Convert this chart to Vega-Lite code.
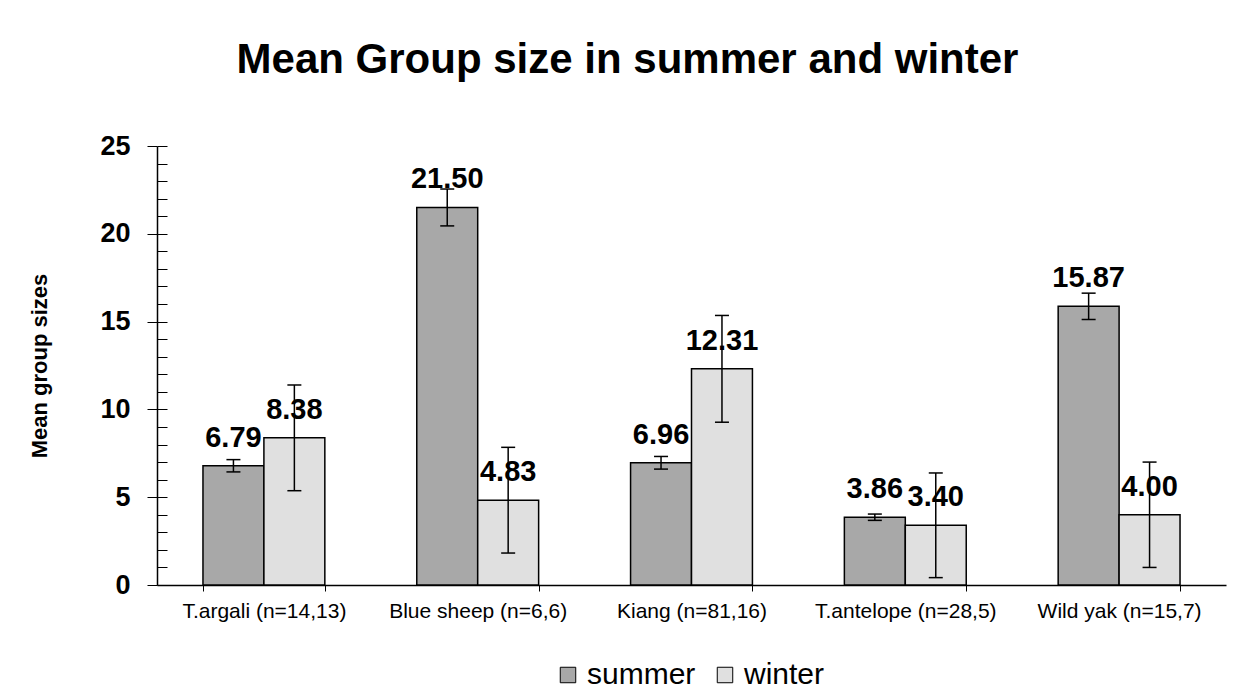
{
  "$schema": "https://vega.github.io/schema/vega-lite/v6.json",
  "width": 1069,
  "height": 439,
  "autosize": {"type": "none"},
  "padding": {"left": 157, "top": 146, "right": 19, "bottom": 110},
  "background": "white",
  "config": {"font": "Liberation Sans", "view": {"stroke": null}},
  "title": {"text": "Mean Group size in summer and winter", "fontSize": 42, "fontWeight": "bold", "font": "Liberation Sans", "anchor": "middle", "frame": "bounds", "offset": 50, "color": "black"},
  "data": {"values": [
    {"species": "T.argali (n=14,13)", "season": "summer", "mean": 6.79, "lo": 6.44, "hi": 7.14},
    {"species": "T.argali (n=14,13)", "season": "winter", "mean": 8.38, "lo": 5.37, "hi": 11.39},
    {"species": "Blue sheep (n=6,6)", "season": "summer", "mean": 21.50, "lo": 20.45, "hi": 22.55},
    {"species": "Blue sheep (n=6,6)", "season": "winter", "mean": 4.83, "lo": 1.82, "hi": 7.84},
    {"species": "Kiang (n=81,16)", "season": "summer", "mean": 6.96, "lo": 6.60, "hi": 7.32},
    {"species": "Kiang (n=81,16)", "season": "winter", "mean": 12.31, "lo": 9.27, "hi": 15.35},
    {"species": "T.antelope (n=28,5)", "season": "summer", "mean": 3.86, "lo": 3.68, "hi": 4.04},
    {"species": "T.antelope (n=28,5)", "season": "winter", "mean": 3.40, "lo": 0.42, "hi": 6.38},
    {"species": "Wild yak (n=15,7)", "season": "summer", "mean": 15.87, "lo": 15.12, "hi": 16.62},
    {"species": "Wild yak (n=15,7)", "season": "winter", "mean": 4.00, "lo": 1.00, "hi": 7.00}
  ]},
  "encoding": {
    "x": {"field": "species", "type": "nominal", "sort": null,
      "scale": {"paddingInner": 0.43, "paddingOuter": 0.215},
      "axis": {"title": null, "labelAngle": 0, "tickBand": "extent", "tickSize": 6, "labelFontSize": 21, "labelPadding": 9, "domainColor": "black", "domainWidth": 1.5, "tickColor": "black", "tickWidth": 1, "labelColor": "black", "labelLimit": 0}},
    "xOffset": {"field": "season", "type": "nominal", "sort": ["summer", "winter"], "scale": {"paddingInner": 0, "paddingOuter": 0}}
  },
  "resolve": {"axis": {"y": "independent"}},
  "layer": [
    {
      "mark": {"type": "bar", "stroke": "black", "strokeWidth": 1.5},
      "encoding": {
        "y": {"field": "mean", "type": "quantitative", "scale": {"domain": [0, 25], "nice": false},
          "axis": {"title": "Mean group sizes", "orient": "left", "values": [0, 5, 10, 15, 20, 25], "tickSize": 10, "labelFontSize": 27, "labelFontWeight": "bold", "labelPadding": 17, "titleFontSize": 22, "titleFontWeight": "bold", "titlePadding": 48, "domainColor": "black", "domainWidth": 1.5, "tickColor": "black", "labelColor": "black", "titleColor": "black", "grid": false}},
        "color": {"field": "season", "type": "nominal", "sort": ["summer", "winter"],
          "scale": {"range": ["#a8a8a8", "#e0e0e0"]},
          "legend": {"title": null, "orient": "none", "legendX": 396, "legendY": 514, "direction": "horizontal", "labelFontSize": 30, "labelColor": "black", "symbolType": "square", "symbolSize": 240, "symbolStrokeColor": "black", "symbolStrokeWidth": 1, "columnPadding": 14, "labelOffset": 4}}
      }
    },
    {
      "mark": {"type": "rule", "strokeWidth": 1.5, "color": "black"},
      "encoding": {
        "y": {"field": "lo", "type": "quantitative",
          "axis": {"orient": "left", "title": null, "values": [0,1,2,3,4,5,6,7,8,9,10,11,12,13,14,15,16,17,18,19,20,21,22,23,24,25], "tickSize": -10, "labels": false, "domain": false, "grid": false, "tickColor": "black"}},
        "y2": {"field": "hi"}
      }
    },
    {
      "mark": {"type": "tick", "size": 14, "thickness": 1.5, "color": "black", "opacity": 1},
      "encoding": {"y": {"field": "lo", "type": "quantitative", "axis": null}}
    },
    {
      "mark": {"type": "tick", "size": 14, "thickness": 1.5, "color": "black", "opacity": 1},
      "encoding": {"y": {"field": "hi", "type": "quantitative", "axis": null}}
    },
    {
      "mark": {"type": "text", "fontSize": 29, "fontWeight": "bold", "baseline": "alphabetic", "dy": -19, "color": "black"},
      "encoding": {
        "y": {"field": "mean", "type": "quantitative", "axis": null},
        "text": {"field": "mean", "type": "quantitative", "format": ".2f"}
      }
    }
  ]
}
